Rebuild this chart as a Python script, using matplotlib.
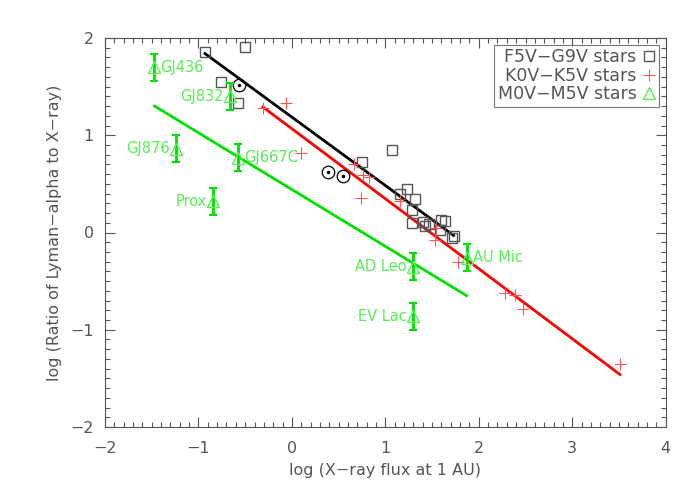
import matplotlib
matplotlib.use("Agg")
import matplotlib.pyplot as plt
from matplotlib.ticker import MultipleLocator

# ---------------------------- data ----------------------------
# F5V-G9V stars (open squares)
g_x = [-0.93, -0.50, -0.76, -0.58, 1.07, 0.75, 1.23, 1.16, 1.32, 1.28, 1.29,
       1.40, 1.42, 1.47, 1.60, 1.64, 1.58, 1.73, 1.71]
g_y = [1.86, 1.91, 1.55, 1.33, 0.85, 0.72, 0.45, 0.40, 0.34, 0.23, 0.10,
       0.11, 0.07, 0.09, 0.13, 0.12, 0.03, -0.04, -0.06]

# Sun (circle with dot)
sun_x = [-0.57, 0.39, 0.55]
sun_y = [1.52, 0.62, 0.58]

# K0V-K5V stars (crosses)
k_x = [-0.31, -0.06, 0.10, 0.66, 0.76, 0.83, 0.74, 1.16, 1.54, 1.53, 1.78,
       2.28, 2.39, 2.47, 3.51]
k_y = [1.28, 1.33, 0.82, 0.70, 0.59, 0.57, 0.35, 0.32, 0.05, -0.08, -0.30,
       -0.62, -0.64, -0.79, -1.35]

# M0V-M5V stars (triangles with error bars)
m_names = ["GJ436", "GJ832", "GJ876", "GJ667C", "Prox", "AD Leo", "EV Lac", "AU Mic"]
m_x = [-1.48, -0.66, -1.24, -0.58, -0.84, 1.30, 1.30, 1.87]
m_y = [1.70, 1.40, 0.86, 0.77, 0.32, -0.35, -0.86, -0.26]
m_err = [0.14, 0.14, 0.14, 0.14, 0.14, 0.14, 0.14, 0.14]
m_side = ["right", "left", "left", "right", "left", "left", "left", "right"]

# fitted lines (end points)
fit_g_x = [-0.93, 1.73]
fit_g_y = [1.84, -0.03]
fit_k_x = [-0.31, 3.51]
fit_k_y = [1.29, -1.46]
fit_m_x = [-1.47, 1.87]
fit_m_y = [1.30, -0.65]

GRAY = "#555555"
GREEN = "#00e000"
LABEL_GREEN = "#55ee55"
RED = "#ff0000"


def main():
    fig = plt.figure(figsize=(7, 5), dpi=100)
    ax = fig.add_axes([0.15, 0.146, 0.801, 0.778])

    # fits
    ax.plot(fit_g_x, fit_g_y, color="black", lw=2)
    ax.plot(fit_k_x, fit_k_y, color=RED, lw=2)
    ax.plot(fit_m_x, fit_m_y, color=GREEN, lw=2)

    # data points
    sq, = ax.plot(g_x, g_y, ls="none", marker="s", ms=7, mfc="none",
                  mec=GRAY, mew=1)
    ax.plot(sun_x, sun_y, ls="none", marker="o", ms=9, mfc="none",
            mec="black", mew=0.9)
    ax.plot(sun_x, sun_y, ls="none", marker=".", ms=3, color="black")
    cr, = ax.plot(k_x, k_y, ls="none", marker="+", ms=8, color="#ff5555",
                  mew=0.8)
    ax.errorbar(m_x, m_y, yerr=m_err, ls="none", ecolor=GREEN, elinewidth=2,
                capsize=3, capthick=1.5)
    tri, = ax.plot(m_x, m_y, ls="none", marker="^", ms=9, mfc="none",
                   mec=LABEL_GREEN, mew=1)

    for name, x, y, side in zip(m_names, m_x, m_y, m_side):
        if side == "right":
            ax.text(x + 0.07, y, name, color=LABEL_GREEN, fontsize=10.5,
                    ha="left", va="center")
        else:
            ax.text(x - 0.07, y, name, color=LABEL_GREEN, fontsize=10.5,
                    ha="right", va="center")

    # axes
    ax.set_xlim(-2, 4)
    ax.set_ylim(-2, 2)
    ax.xaxis.set_major_locator(MultipleLocator(1))
    ax.xaxis.set_minor_locator(MultipleLocator(0.1))
    ax.yaxis.set_major_locator(MultipleLocator(1))
    ax.yaxis.set_minor_locator(MultipleLocator(0.1))
    ax.tick_params(which="both", direction="in", top=True, right=True,
                   colors=GRAY, labelcolor=GRAY, labelsize=11.5, width=0.8)
    ax.tick_params(which="major", length=7, pad=8)
    ax.tick_params(axis="x", which="major", pad=10)
    ax.tick_params(which="minor", length=3.5)
    for s in ax.spines.values():
        s.set_color(GRAY)
        s.set_linewidth(0.8)
    ax.set_xticks([-2, -1, 0, 1, 2, 3, 4])
    ax.set_xticklabels(["\u22122", "\u22121", "0", "1", "2", "3", "4"])
    ax.set_yticks([-2, -1, 0, 1, 2])
    ax.set_yticklabels(["\u22122", "\u22121", "0", "1", "2"])
    ax.set_xlabel("log (X\u2212ray flux at 1 AU)", color=GRAY, fontsize=11.5,
                  labelpad=5)
    ax.set_ylabel("log (Ratio of Lyman\u2212alpha to X\u2212ray)", color=GRAY,
                  fontsize=11.5, labelpad=6)

    leg = ax.legend([sq, cr, tri],
                    ["F5V\u2212G9V stars", "K0V\u2212K5V stars", "M0V\u2212M5V stars"],
                    loc="upper right", bbox_to_anchor=(0.988, 0.982),
                    markerfirst=False, fancybox=False, fontsize=12.5,
                    handlelength=0.8, handletextpad=0.3, labelspacing=0.02,
                    borderpad=0.2, borderaxespad=0)
    leg.get_frame().set_edgecolor(GRAY)
    leg.get_frame().set_linewidth(0.8)
    for t in leg.get_texts():
        t.set_color(GRAY)

    fig.savefig("out.png", dpi=100)


if __name__ == "__main__":
    main()
